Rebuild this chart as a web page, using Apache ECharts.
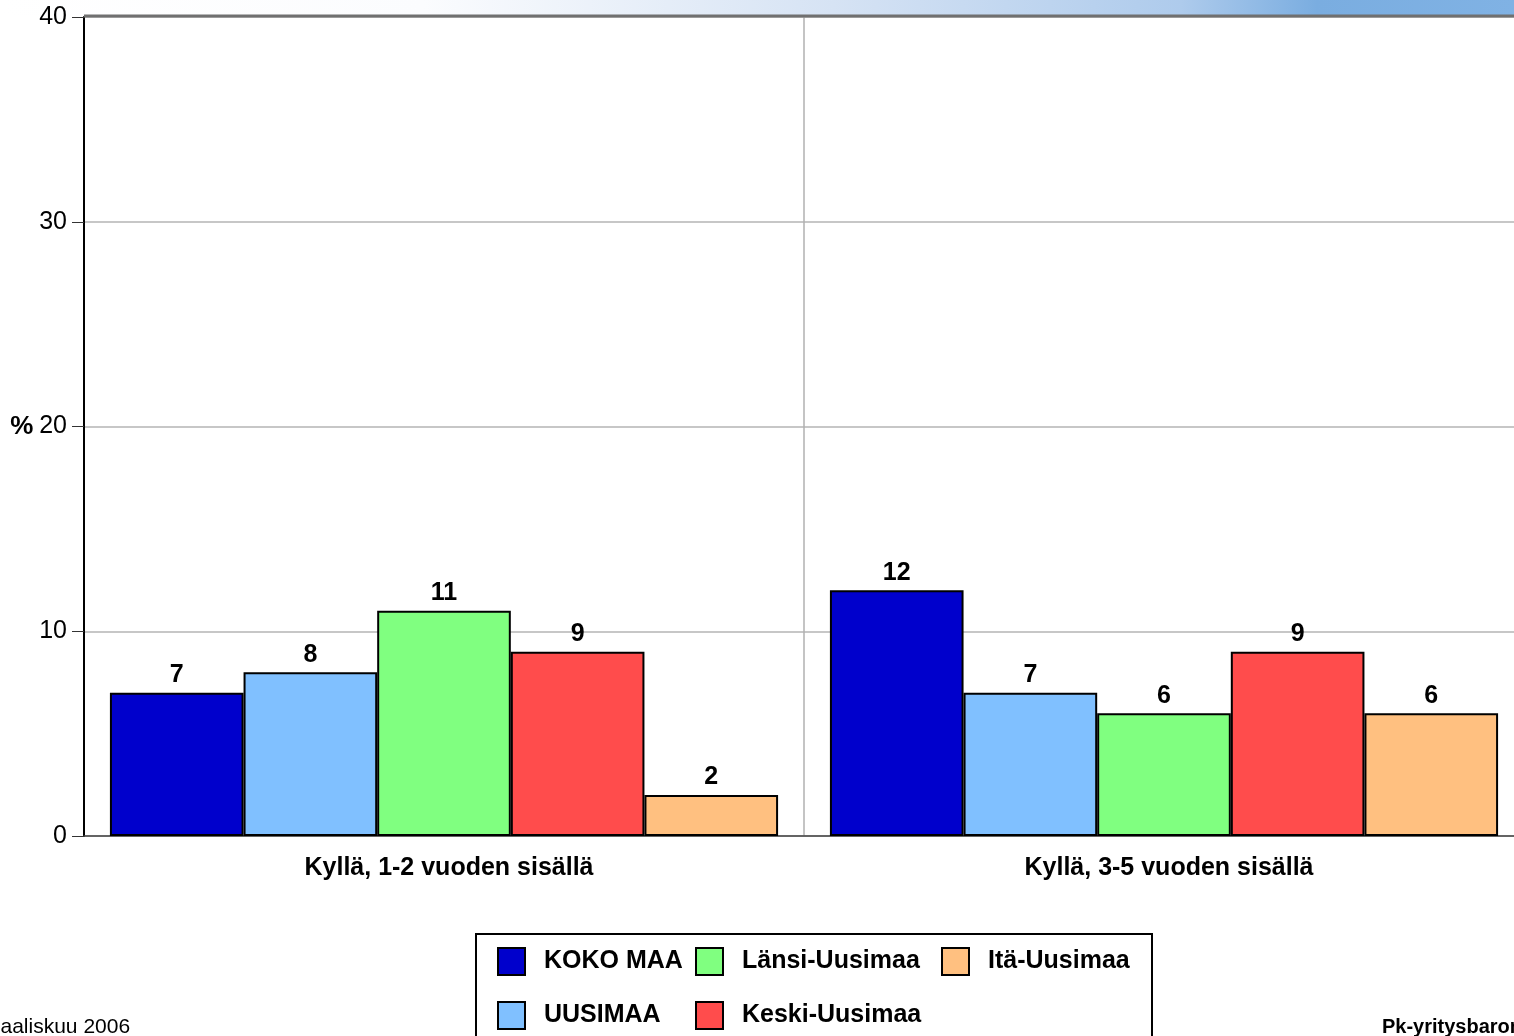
<!DOCTYPE html>
<html>
<head>
<meta charset="utf-8">
<script src="https://cdn.jsdelivr.net/npm/echarts@6/dist/echarts.min.js"></script>
<style>
html,body{margin:0;padding:0;background:#fff;overflow:hidden;}
#c{width:1514px;height:1036px;}
</style>
</head>
<body>
<div id="c"></div>
<script>
var categories = ['Kyllä, 1-2 vuoden sisällä', 'Kyllä, 3-5 vuoden sisällä'];
var seriesNames = ['KOKO MAA', 'UUSIMAA', 'Länsi-Uusimaa', 'Keski-Uusimaa', 'Itä-Uusimaa'];
var kokoMaa = [7, 12];
var uusimaa = [8, 7];
var lansiUusimaa = [11, 6];
var keskiUusimaa = [9, 9];
var itaUusimaa = [2, 6];
var colors = ['#0000cc', '#80c0ff', '#80ff80', '#ff4c4c', '#ffc080'];
var yTicks = { min: 0, max: 40, interval: 10 };

var FONT = '"Liberation Sans", Arial, sans-serif';
var values = [kokoMaa, uusimaa, lansiUusimaa, keskiUusimaa, itaUusimaa];

var series = seriesNames.map(function (n, i) {
  return {
    name: n,
    type: 'bar',
    data: values[i],
    barGap: '0%',
    barCategoryGap: '7.2%',
    itemStyle: { color: colors[i], borderColor: '#000', borderWidth: 2 },
    label: {
      show: true, position: 'top', distance: 5,
      color: '#000', fontFamily: FONT, fontWeight: 'bold', fontSize: 25
    }
  };
});

function legendBlock(names, left) {
  return {
    data: names,
    orient: 'vertical',
    left: left,
    top: 947,
    padding: 0,
    itemWidth: 27,
    itemHeight: 27,
    itemGap: 25,
    icon: 'rect',
    textStyle: {
      color: '#000', fontFamily: FONT, fontWeight: 'bold', fontSize: 25,
      padding: [0, 0, 0, 14]
    }
  };
}

var chart = echarts.init(document.getElementById('c'), null, { renderer: 'canvas' });
chart.setOption({
  backgroundColor: '#fff',
  animation: false,
  grid: { left: 84, right: -10, top: 17, bottom: 200, containLabel: false, outerBoundsMode: 'none' },
  legend: [
    legendBlock([seriesNames[0], seriesNames[1]], 497),
    legendBlock([seriesNames[2], seriesNames[3]], 695),
    legendBlock([seriesNames[4]], 941)
  ],
  xAxis: {
    type: 'category',
    data: categories,
    axisLine: { show: true, lineStyle: { color: '#444', width: 1.5 } },
    axisTick: { show: false },
    splitLine: { show: true, interval: 0, lineStyle: { color: '#b0b0b0', width: 1.5 } },
    axisLabel: {
      interval: 0, margin: 20, color: '#000',
      fontFamily: FONT, fontWeight: 'bold', fontSize: 25,
      padding: [0, 0, 0, 10]
    }
  },
  yAxis: {
    type: 'value',
    min: yTicks.min, max: yTicks.max, interval: yTicks.interval,
    name: '%',
    nameLocation: 'middle',
    nameRotate: 0,
    nameGap: 47,
    nameTextStyle: { color: '#000', fontFamily: FONT, fontWeight: 'bold', fontSize: 26 },
    axisLine: { show: true, lineStyle: { color: '#000', width: 2 } },
    axisTick: { show: true, length: 12, lineStyle: { color: '#333', width: 1 } },
    splitLine: { show: true, lineStyle: { color: '#b4b4b4', width: 1.5 } },
    axisLabel: { margin: 17, color: '#000', fontFamily: FONT, fontSize: 25 }
  },
  graphic: [
    {
      type: 'rect', silent: true, z: -1,
      shape: { x: 0, y: 0, width: 1514, height: 15 },
      style: {
        fill: {
          type: 'linear', x: 0, y: 0, x2: 1, y2: 0,
          colorStops: [
            { offset: 0, color: '#ffffff' },
            { offset: 0.28, color: '#fbfcfe' },
            { offset: 0.55, color: '#d6e3f4' },
            { offset: 0.78, color: '#aecbec' },
            { offset: 0.87, color: '#7aade0' },
            { offset: 1, color: '#80b2e4' }
          ]
        }
      }
    },
    {
      type: 'line', silent: true, z: 100,
      shape: { x1: 84, y1: 16, x2: 1514, y2: 16 },
      style: { stroke: '#707070', lineWidth: 3 }
    },
    {
      type: 'rect', silent: true, z: -1,
      shape: { x: 476, y: 934, width: 676, height: 130 },
      style: { fill: '#fff', stroke: '#000', lineWidth: 2 }
    },
    {
      type: 'text', silent: true,
      style: {
        x: -17, y: 1027, text: 'Maaliskuu 2006', verticalAlign: 'middle',
        fill: '#000', font: '21px ' + FONT
      }
    },
    {
      type: 'text', silent: true,
      style: {
        x: 1382, y: 1027, text: 'Pk-yritysbarometri', verticalAlign: 'middle',
        fill: '#000', font: 'bold 20px ' + FONT
      }
    }
  ],
  series: series
});
</script>
</body>
</html>
